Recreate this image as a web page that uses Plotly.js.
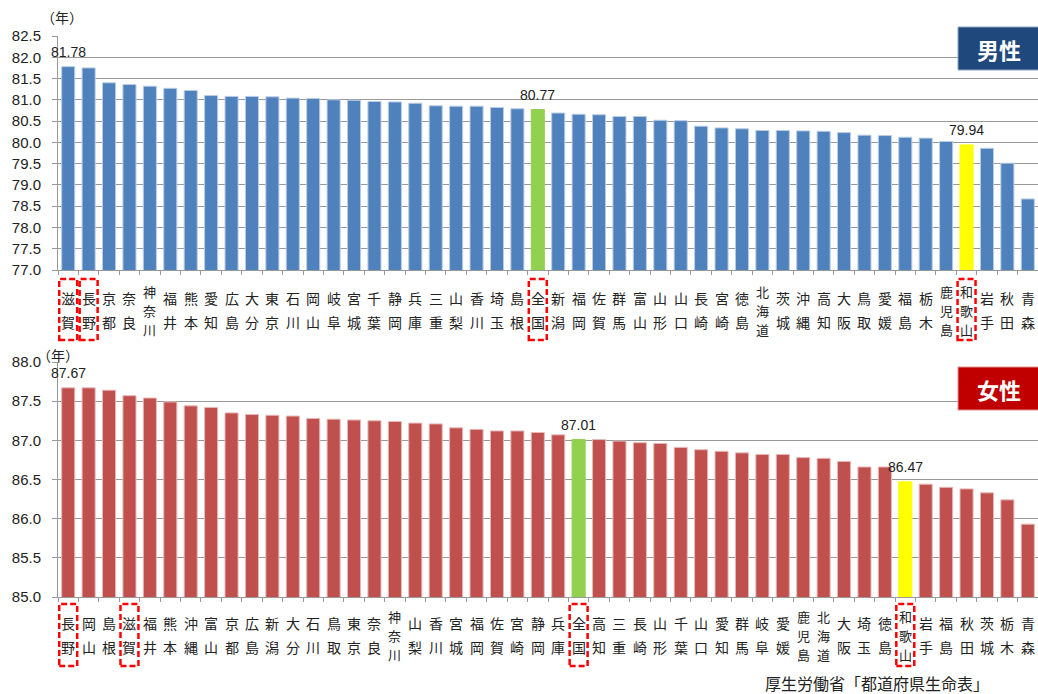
<!DOCTYPE html>
<html><head><meta charset="utf-8">
<script src="https://cdn.plot.ly/plotly-3.0.1.min.js"></script>
<style>html,body{margin:0;padding:0;background:#fff}#chart{width:1038px;height:694px}</style>
</head><body><div id="chart"></div>
<script>
// ---- data ----
const maleCategories = ['滋賀','長野','京都','奈良','神奈川','福井','熊本','愛知','広島','大分','東京','石川','岡山','岐阜','宮城','千葉','静岡','兵庫','三重','山梨','香川','埼玉','島根','全国','新潟','福岡','佐賀','群馬','富山','山形','山口','長崎','宮崎','徳島','北海道','茨城','沖縄','高知','大阪','鳥取','愛媛','福島','栃木','鹿児島','和歌山','岩手','秋田','青森'];
const maleValues = [81.78,81.75,81.40,81.36,81.32,81.27,81.22,81.10,81.08,81.08,81.07,81.04,81.03,81.00,80.99,80.96,80.95,80.92,80.86,80.85,80.85,80.82,80.79,80.77,80.69,80.66,80.65,80.61,80.61,80.52,80.51,80.38,80.34,80.32,80.28,80.28,80.27,80.26,80.23,80.17,80.16,80.12,80.10,80.02,79.94,79.86,79.51,78.67];
const femaleCategories = ['長野','岡山','島根','滋賀','福井','熊本','沖縄','富山','京都','広島','新潟','大分','石川','鳥取','東京','奈良','神奈川','山梨','香川','宮城','福岡','佐賀','宮崎','静岡','兵庫','全国','高知','三重','長崎','山形','千葉','山口','愛知','群馬','岐阜','愛媛','鹿児島','北海道','大阪','埼玉','徳島','和歌山','岩手','福島','秋田','茨城','栃木','青森'];
const femaleValues = [87.67,87.67,87.64,87.57,87.54,87.49,87.44,87.42,87.35,87.33,87.32,87.31,87.28,87.27,87.26,87.25,87.24,87.22,87.21,87.16,87.14,87.12,87.12,87.10,87.07,87.01,87.01,86.99,86.97,86.96,86.91,86.88,86.86,86.84,86.82,86.82,86.78,86.77,86.73,86.66,86.66,86.47,86.44,86.40,86.38,86.33,86.24,85.93];
const maleTicks = [77.0,77.5,78.0,78.5,79.0,79.5,80.0,80.5,81.0,81.5,82.0,82.5];
const femaleTicks = [85.0,85.5,86.0,86.5,87.0,87.5,88.0];
const maleBoxed = ['滋賀','長野','全国','和歌山'];
const femaleBoxed = ['長野','滋賀','全国','和歌山'];
const labeledMale = ['滋賀','全国','和歌山'];
const labeledFemale = ['長野','全国','和歌山'];
const unitLabel = '（年）';
const sourceText = '厚生労働省「都道府県生命表」';

// ---- layout helpers ----
const W = 1038, H = 694, L = 58, R = 0, T = 36, B = 97;
const px2x = px => (px - L) / (W - L - R);
const py2y = py => (H - B - py) / (H - T - B);
const topDomain = [py2y(270), 1];
const botDomain = [0, py2y(362)];
const CJK = '"Noto Sans CJK JP", "Noto Sans", sans-serif';
const NUM = 'Arial, "Liberation Sans", sans-serif';

function colors(cats, base) {
  return cats.map(c => c === '全国' ? '#92D050' : (c === '和歌山' ? '#FFFF00' : base));
}

const traces = [
  {type:'bar', x: maleCategories, y: maleValues, xaxis:'x', yaxis:'y',
   marker:{color: colors(maleCategories,'#4F81BD'), line:{color: colors(maleCategories,'#B9CDE5'), width:1}},
   hoverinfo:'x+y'},
  {type:'bar', x: femaleCategories, y: femaleValues, xaxis:'x2', yaxis:'y2',
   marker:{color: colors(femaleCategories,'#C0504D'), line:{color: colors(femaleCategories,'#E6B9B8'), width:1}},
   hoverinfo:'x+y'}
];

const annotations = [];
const shapes = [];

// vertical category labels, one character per line
function charLabels(cats, xref, yBase, offset) {
  cats.forEach(cat => {
    const chars = Array.from(cat);
    const n = chars.length;
    const step = n === 2 ? 24 : 19;
    const start = n === 2 ? offset : offset + 12 - step;
    chars.forEach((ch, i) => {
      annotations.push({xref: xref, yref:'paper', x: cat, y: yBase, yanchor:'middle', xanchor:'center',
        yshift: -(start + i * step), text: ch, showarrow:false, borderpad:0,
        font:{family: CJK, size: n === 2 ? 14 : 13, color:'#222'}});
    });
  });
}
charLabels(maleCategories, 'x', topDomain[0], 28);
charLabels(femaleCategories, 'x2', botDomain[0], 26);

function valueLabels(cats, vals, wanted, xref, yref) {
  wanted.forEach(c => {
    const i = cats.indexOf(c);
    annotations.push({xref: xref, yref: yref, x: c, y: vals[i], yanchor:'bottom', yshift: 5,
      text: vals[i].toFixed(2), showarrow:false, font:{family: NUM, size:14, color:'#222'}});
  });
}
valueLabels(maleCategories, maleValues, labeledMale, 'x', 'y');
valueLabels(femaleCategories, femaleValues, labeledFemale, 'x2', 'y2');

function boxes(cats, wanted, xref, pyTop, pyBot) {
  wanted.forEach(c => {
    const i = cats.indexOf(c);
    shapes.push({type:'rect', xref: xref, yref:'paper', x0: i - 0.44, x1: i + 0.44,
      y0: py2y(pyBot), y1: py2y(pyTop), line:{color:'#FF0000', width:2.5, dash:'6px,3px'}, fillcolor:'rgba(0,0,0,0)'});
  });
}
boxes(maleCategories, maleBoxed, 'x', 279, 340);
boxes(femaleCategories, femaleBoxed, 'x2', 604, 666);

// badges
shapes.push({type:'rect', xref:'paper', yref:'paper', x0: px2x(958), x1: px2x(1042), y0: py2y(70), y1: py2y(27),
  fillcolor:'#1F497D', line:{color:'#8EA4C4', width:1}});
shapes.push({type:'rect', xref:'paper', yref:'paper', x0: px2x(958), x1: px2x(1042), y0: py2y(410), y1: py2y(367),
  fillcolor:'#C00000', line:{color:'#E09090', width:1}});
annotations.push({xref:'paper', yref:'paper', x: px2x(999), y: py2y(49), text:'<b>男性</b>', showarrow:false,
  xanchor:'center', yanchor:'middle', font:{family: CJK, size:22, color:'#fff'}});
annotations.push({xref:'paper', yref:'paper', x: px2x(999), y: py2y(389), text:'<b>女性</b>', showarrow:false,
  xanchor:'center', yanchor:'middle', font:{family: CJK, size:22, color:'#fff'}});

// unit labels
annotations.push({xref:'paper', yref:'paper', x: px2x(62), y: py2y(17), text: unitLabel, showarrow:false,
  xanchor:'center', yanchor:'middle', font:{family: CJK, size:14, color:'#222'}});
annotations.push({xref:'paper', yref:'paper', x: px2x(58), y: py2y(355), text: unitLabel, showarrow:false,
  xanchor:'center', yanchor:'middle', font:{family: CJK, size:14, color:'#222'}});
// source
annotations.push({xref:'paper', yref:'paper', x: px2x(991), y: py2y(683), text: sourceText, showarrow:false,
  xanchor:'right', yanchor:'middle', font:{family: CJK, size:16, color:'#222'}});

const xaxisBase = {type:'category', tickson:'boundaries', ticks:'outside', ticklen:4, tickcolor:'#999',
  showticklabels:false, showline:true, linecolor:'#999', linewidth:1, showgrid:false, zeroline:false,
  fixedrange:true, automargin:false};
const yaxisBase = {ticks:'outside', ticklen:5, tickcolor:'#999', showline:true, linecolor:'#999', linewidth:1,
  showgrid:true, gridcolor:'#999', gridwidth:1, zeroline:false, tickformat:'.1f', ticklabelstandoff:8,
  tickfont:{family: NUM, size:15, color:'#222'}, tickmode:'array', fixedrange:true, automargin:false};

const layout = {
  width: W, height: H,
  margin:{l:L, r:R, t:T, b:B, pad:0, autoexpand:false},
  paper_bgcolor:'#fff', plot_bgcolor:'#fff',
  showlegend:false, bargap:0.36,
  xaxis: Object.assign({}, xaxisBase, {domain:[0,1], anchor:'y', range:[-0.5, maleCategories.length - 0.5]}),
  yaxis: Object.assign({}, yaxisBase, {domain: topDomain, anchor:'x', range:[77,82.5], tickvals: maleTicks}),
  xaxis2: Object.assign({}, xaxisBase, {domain:[0,1], anchor:'y2', range:[-0.5, femaleCategories.length - 0.5]}),
  yaxis2: Object.assign({}, yaxisBase, {domain: botDomain, anchor:'x2', range:[85,88], tickvals: femaleTicks}),
  annotations: annotations,
  shapes: shapes
};

Plotly.newPlot('chart', traces, layout, {displayModeBar:false, staticPlot:true});
</script>
</body></html>
